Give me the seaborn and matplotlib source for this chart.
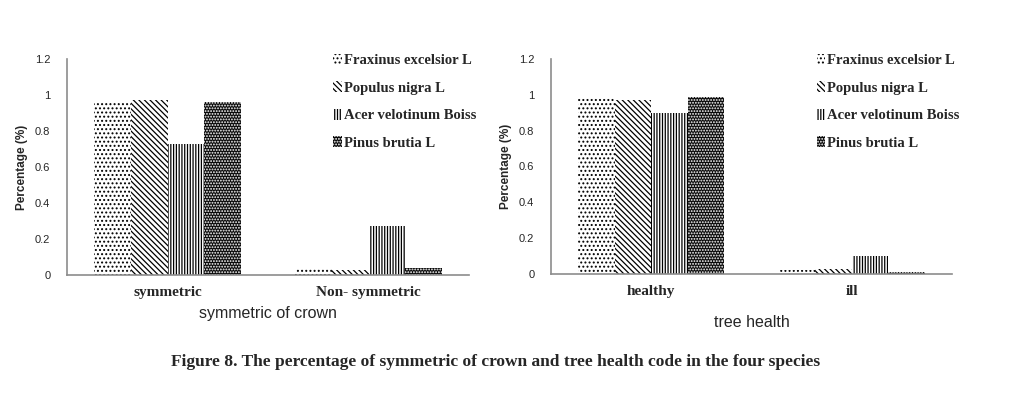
import matplotlib
matplotlib.use("Agg")
import matplotlib.pyplot as plt
import seaborn as sns
import pandas as pd
from matplotlib.patches import Patch

species = ["Fraxinus excelsior L", "Populus nigra L", "Acer velotinum Boiss", "Pinus brutia L"]
crown_cats = ["symmetric", "Non- symmetric"]
crown_vals = {
    "Fraxinus excelsior L": [0.96, 0.04],
    "Populus nigra L": [0.97, 0.03],
    "Acer velotinum Boiss": [0.73, 0.27],
    "Pinus brutia L": [0.96, 0.04],
}
health_cats = ["healthy", "ill"]
health_vals = {
    "Fraxinus excelsior L": [0.98, 0.02],
    "Populus nigra L": [0.97, 0.03],
    "Acer velotinum Boiss": [0.90, 0.10],
    "Pinus brutia L": [0.99, 0.01],
}
yticks = [0, 0.2, 0.4, 0.6, 0.8, 1, 1.2]
ytick_labels = ["0", "0.2", "0.4", "0.6", "0.8", "1", "1.2"]

# (hatch, facecolor, hatchcolor)
styles = [("....", "white", "black"),
          ("\\" * 6, "white", "black"),
          ("|" * 6, "white", "black"),
          ("......", "#0a0a0a", "white")]

sns.set_theme(style="white")
plt.rcParams["hatch.linewidth"] = 0.9

def long_df(cats, vals):
    rows = []
    for sp in species:
        for c, v in zip(cats, vals[sp]):
            rows.append({"cat": c, "species": sp, "value": v})
    return pd.DataFrame(rows)

fig = plt.figure(figsize=(10.11, 3.98), dpi=100)
ax1 = fig.add_axes([0.0663, 0.309, 0.3976, 0.5427])
ax2 = fig.add_axes([0.545, 0.3116, 0.3966, 0.5402])

serif = "Liberation Serif"
sans = "Liberation Sans"

def draw(ax, cats, vals, xlabel):
    df = long_df(cats, vals)
    sns.barplot(data=df, x="cat", y="value", hue="species", order=cats,
                hue_order=species, ax=ax, width=0.73, legend=False,
                palette=["white"] * 4)
    for cont, (h, fc, hc) in zip(ax.containers, styles):
        for bar in cont:
            bar.set_facecolor(fc)
            bar.set_edgecolor(hc)
            bar.set_hatch(h)
            bar.set_linewidth(0)
    ax.set_ylim(0, 1.2)
    ax.set_yticks(yticks)
    ax.set_yticklabels(ytick_labels, fontsize=8, family=sans)
    ax.set_xticks(range(len(cats)))
    ax.set_xticklabels(cats, fontsize=11, family=serif, fontweight="bold")
    ax.tick_params(length=0, pad=8)
    ax.tick_params(axis="y", pad=12)
    for s in ["top", "right"]:
        ax.spines[s].set_visible(False)
    for s in ["left", "bottom"]:
        ax.spines[s].set_color("#8c8c8c")
        ax.spines[s].set_linewidth(1.2)
    ax.set_ylabel("Percentage (%)", fontsize=8.5, fontweight="bold", family=sans, labelpad=5)
    ax.set_xlabel(xlabel, fontsize=11.5, family=sans, labelpad=5)
    handles = [Patch(facecolor=fc, edgecolor=hc, hatch=h, linewidth=0) for h, fc, hc in styles]
    ax.legend(handles, species, loc="upper left", bbox_to_anchor=(0.63, 1.085),
              frameon=False, handlelength=0.6, handleheight=0.8, handletextpad=0.1,
              labelspacing=0.95, prop={"family": serif, "weight": "bold", "size": 10.5})

draw(ax1, crown_cats, crown_vals, "symmetric of crown")
draw(ax2, health_cats, health_vals, "tree health")
ax2.xaxis.labelpad = 12

fig.text(0.49, 0.09, "Figure 8. The percentage of symmetric of crown and tree health code in the four species",
         ha="center", va="center", fontsize=12.5, family=serif, fontweight="bold")

fig.savefig("out.png", dpi=100, facecolor="white")
